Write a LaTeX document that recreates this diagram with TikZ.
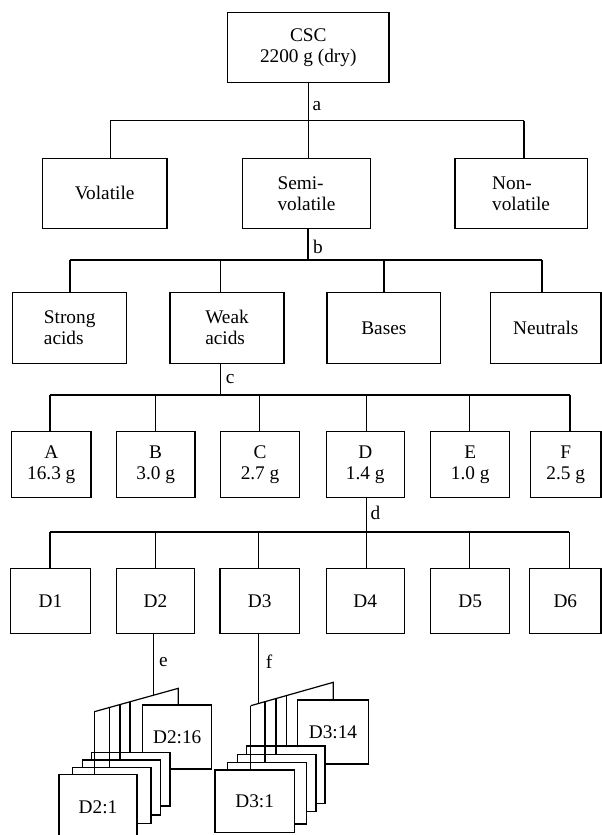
\documentclass[tikz,border=0pt]{standalone}
\usepackage{fontspec}
\setmainfont{Liberation Serif}
\usetikzlibrary{calc}
\begin{document}
\begin{tikzpicture}[x=1pt,y=-1pt,
  every node/.style={font=\fontsize{19.3}{21}\selectfont},
  box/.style={draw,line width=1.2pt,fill=white,inner sep=0pt,align=center},
  lbl/.style={anchor=west,inner sep=0pt},
  conn/.style={line width=1.2pt}]
\useasboundingbox (0,0) rectangle (602,835);
% row 0
\node[box,minimum width=161.3pt,minimum height=70pt] (csc) at (308.25,47.7) {CSC\\2200 g (dry)};
% row 1
\node[box,minimum width=124.8pt,minimum height=70pt] (vol) at (104.6,193.3) {Volatile};
\node[box,align=left,minimum width=127.8pt,minimum height=70pt] (semi) at (306.5,193.3) {Semi-\\volatile};
\node[box,align=left,minimum width=132.4pt,minimum height=70pt] (non) at (521.1,193.3) {Non-\\volatile};
% row 2
\node[box,align=left,minimum width=114pt,minimum height=71pt] (strong) at (69.7,327.8) {Strong\\acids};
\node[box,align=left,minimum width=114pt,minimum height=71pt] (weak) at (227,327.8) {Weak\\acids};
\node[box,minimum width=113.7pt,minimum height=71pt] (bases) at (383.85,327.8) {Bases};
\node[box,minimum width=110.4pt,minimum height=71pt] (neut) at (545.8,327.8) {Neutrals};
% row 3
\node[box,minimum width=79.5pt,minimum height=66pt] (A) at (51.25,464.7) {A\\16.3 g};
\node[box,minimum width=78.7pt,minimum height=66pt] (B) at (155.65,464.7) {B\\3.0 g};
\node[box,minimum width=78.7pt,minimum height=66pt] (C) at (260.05,464.7) {C\\2.7 g};
\node[box,minimum width=77.9pt,minimum height=66pt] (D) at (365.25,464.7) {D\\1.4 g};
\node[box,minimum width=79.1pt,minimum height=66pt] (E) at (470.25,464.7) {E\\1.0 g};
\node[box,minimum width=70.5pt,minimum height=66pt] (F) at (565.75,464.7) {F\\2.5 g};
% row 4
\node[box,minimum width=79.5pt,minimum height=65pt] (D1) at (50.45,600.8) {D1};
\node[box,minimum width=78.3pt,minimum height=65pt] (D2) at (155.45,600.8) {D2};
\node[box,minimum width=79.4pt,minimum height=65pt] (D3) at (259.7,600.8) {D3};
\node[box,minimum width=77.9pt,minimum height=65pt] (D4) at (365.25,600.8) {D4};
\node[box,minimum width=79.1pt,minimum height=65pt] (D5) at (470.25,600.8) {D5};
\node[box,minimum width=71.3pt,minimum height=65pt] (D6) at (565.35,600.8) {D6};
% D2 stack
\node[box,minimum width=69pt,minimum height=64pt] (d216) at (177.2,737) {D2:16};
\node[box,minimum width=78.3pt,minimum height=53.3pt] (c24) at (130.85,779.35) {};
\node[box,minimum width=78pt,minimum height=55pt] (c23) at (121.7,787.5) {};
\node[box,minimum width=78.3pt,minimum height=56pt] (c22) at (111.85,795.3) {};
\node[box,minimum width=78pt,minimum height=65.4pt] (c21) at (98,807) {D2:1};
% D3 stack
\node[box,minimum width=70.6pt,minimum height=64pt] (d314) at (333,732) {D3:14};
\node[box,minimum width=78.3pt,minimum height=57.3pt] (c34) at (285.85,774.65) {};
\node[box,minimum width=78.3pt,minimum height=57.4pt] (c33) at (276.85,783) {};
\node[box,minimum width=79pt,minimum height=61.7pt] (c32) at (267.2,793.15) {};
\node[box,minimum width=79.3pt,minimum height=62.3pt] (c31) at (254.65,801.15) {D3:1};
% bus a
\coordinate (ba1) at (110.2,120.7);
\coordinate (ba2) at (524,120.7);
\draw[conn] (csc.south) -- (csc.south |- semi.north);
\draw[conn] (ba1) -- (ba2);
\draw[conn] (ba1) -- (ba1 |- vol.north);
\draw[conn] (ba2) -- (ba2 |- non.north);
\node[lbl] (la) at (312.4,106) {a};
% bus b
\coordinate (bbm) at (307.9,260);
\coordinate (bb1) at (69.9,260);
\coordinate (bb2) at (220.7,260);
\coordinate (bb3) at (383.9,260);
\coordinate (bb4) at (542,260);
\draw[conn] (bbm |- semi.south) -- (bbm);
\draw[conn] (bb1) -- (bb4);
\foreach \c/\n in {bb1/strong,bb2/weak,bb3/bases,bb4/neut}
  \draw[conn] (\c) -- (\c |- \n.north);
\node[lbl] (lb) at (312.9,246.7) {b};
% bus c
\coordinate (bcm) at (220.7,395);
\coordinate (bc1) at (49.9,395);
\coordinate (bc2) at (155.5,395);
\coordinate (bc3) at (259.1,395);
\coordinate (bc4) at (366.6,395);
\coordinate (bc5) at (469.1,395);
\coordinate (bc6) at (570,395);
\draw[conn] (bcm |- weak.south) -- (bcm);
\draw[conn] (bc1) -- (bc6);
\foreach \c/\n in {bc1/A,bc2/B,bc3/C,bc4/D,bc5/E,bc6/F}
  \draw[conn] (\c) -- (\c |- \n.north);
\node[lbl] (lc) at (225.7,379.3) {c};
% bus d
\coordinate (bdm) at (366.6,532);
\coordinate (bd1) at (49.9,532);
\coordinate (bd2) at (155.5,532);
\coordinate (bd3) at (258.3,532);
\coordinate (bd4) at (366.6,532);
\coordinate (bd5) at (469.1,532);
\coordinate (bd6) at (569.3,532);
\draw[conn] (bdm |- D.south) -- (bdm);
\draw[conn] (bd1) -- (bd6);
\foreach \c/\n in {bd1/D1,bd2/D2,bd3/D3,bd4/D4,bd5/D5,bd6/D6}
  \draw[conn] (\c) -- (\c |- \n.north);
\node[lbl] (ld) at (370.4,513.3) {d};
% D2 fan
\coordinate (s2L) at (94.3,711.7);
\coordinate (s2R) at (178.3,688.3);
\coordinate (s2b) at ($(s2L)!0.1786!(s2R)$);
\coordinate (s2c) at ($(s2L)!0.306!(s2R)$);
\coordinate (s2d) at ($(s2L)!0.425!(s2R)$);
\coordinate (se) at ($(s2L)!0.705!(s2R)$);
\draw[conn] (se |- D2.south) -- (se);
\draw[conn] (s2L) -- (s2R) -- (s2R |- d216.north);
\draw[conn] (s2L) -- (s2L |- c21.north);
\draw[conn] (s2b) -- (s2b |- c22.north);
\draw[conn] (s2c) -- (s2c |- c23.north);
\draw[conn] (s2d) -- (s2d |- c24.north);
\node[lbl] (le) at (159,661.7) {e};
% D3 fan
\coordinate (s3L) at (250.7,705.7);
\coordinate (s3R) at (333.3,682.3);
\coordinate (s3b) at ($(s3L)!0.173!(s3R)$);
\coordinate (s3c) at ($(s3L)!0.306!(s3R)$);
\coordinate (s3d) at ($(s3L)!0.436!(s3R)$);
\coordinate (sf) at ($(s3L)!0.092!(s3R)$);
\draw[conn] (sf |- D3.south) -- (sf);
\draw[conn] (s3L) -- (s3R) -- (s3R |- d314.north);
\draw[conn] (s3L) -- (s3L |- c31.north);
\draw[conn] (s3b) -- (s3b |- c32.north);
\draw[conn] (s3c) -- (s3c |- c33.north);
\draw[conn] (s3d) -- (s3d |- c34.north);
\node[lbl] (lf) at (265.7,661.7) {f};
\end{tikzpicture}
\end{document}
